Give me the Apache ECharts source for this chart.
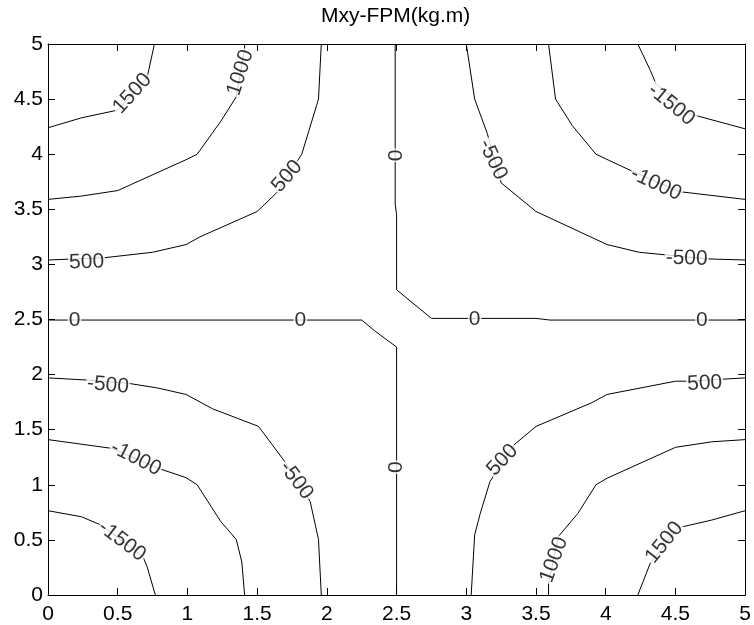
<!DOCTYPE html>
<html>
<head>
<meta charset="utf-8">
<script src="https://cdn.jsdelivr.net/npm/echarts@6/dist/echarts.min.js"></script>
<style>
  html, body { margin: 0; padding: 0; background: #fff; }
  #main { width: 754px; height: 625px; }
</style>
</head>
<body>
<div id="main"></div>
<script>
// contour lines, as [x, y] points
var pos1500a = [[0, 4.24], [0.24, 4.33], [0.50, 4.40], [0.71, 4.69], [0.76, 4.98], [0.76, 5]];
var pos1000a = [[0, 3.59], [0.24, 3.62], [0.50, 3.67], [0.99, 3.95], [1.07, 4.0], [1.24, 4.30], [1.35, 4.52], [1.41, 4.95], [1.41, 5]];
var pos500a = [[0, 3.04], [0.40, 3.06], [0.75, 3.11], [0.99, 3.18], [1.09, 3.25], [1.50, 3.48], [1.64, 3.65], [1.82, 4.0], [1.94, 4.5], [1.96, 5]];

var zeroTop = [[2.49, 5], [2.49, 3.55], [2.5, 3.45], [2.5, 2.77], [2.75, 2.51], [3.5, 2.51], [3.6, 2.495], [5, 2.495]];
var zeroBottom = [[0, 2.495], [2.25, 2.495], [2.34, 2.40], [2.5, 2.25], [2.5, 0]];

var neg500a = [[3.00, 5], [3.06, 4.5], [3.15, 4.19], [3.25, 3.74], [3.50, 3.48], [4.01, 3.18], [4.24, 3.11], [4.72, 3.05], [5, 3.04]];
var neg1000a = [[3.59, 5], [3.64, 4.5], [3.76, 4.26], [3.93, 4.0], [4.03, 3.94], [4.20, 3.84], [4.53, 3.66], [5, 3.59]];
var neg1500a = [[4.23, 5], [4.32, 4.76], [4.36, 4.64], [4.62, 4.36], [5, 4.23]];

var neg500b = [[0, 1.97], [0.29, 1.95], [0.58, 1.92], [0.78, 1.88], [0.99, 1.82], [1.18, 1.69], [1.51, 1.53], [1.69, 1.225], [1.88, 0.85], [1.94, 0.505], [1.96, 0]];
var neg1000b = [[0, 1.41], [0.46, 1.33], [0.79, 1.15], [0.99, 1.065], [1.07, 1.0], [1.24, 0.665], [1.35, 0.505], [1.39, 0.30], [1.41, 0]];
var neg1500b = [[0, 0.765], [0.24, 0.71], [0.38, 0.635], [0.68, 0.35], [0.71, 0.26], [0.77, 0]];

var pos500b = [[5, 1.97], [4.58, 1.94], [4.50, 1.94], [4.01, 1.82], [3.90, 1.745], [3.50, 1.53], [3.34, 1.36], [3.17, 1.03], [3.10, 0.74], [3.06, 0.545], [3.035, 0]];
var pos1000b = [[5, 1.41], [4.76, 1.39], [4.50, 1.34], [4.01, 1.06], [3.93, 1.0], [3.80, 0.74], [3.66, 0.53], [3.59, 0.106], [3.59, 0]];
var pos1500b = [[5, 0.765], [4.76, 0.68], [4.52, 0.61], [4.32, 0.29], [4.23, 0]];

var contours = [pos1500a, pos1000a, pos500a, zeroTop, zeroBottom, neg500a, neg1000a, neg1500a,
                neg500b, neg1000b, neg1500b, pos500b, pos1000b, pos1500b];

// contour labels: x, y, text, angle (degrees, anticlockwise)
var labels = [
    [0.605, 4.55, '1500', 48],
    [1.38, 4.74, '1000', 72],
    [1.715, 3.80, '500', 49],
    [0.277, 3.02, '500', 2],
    [0.19, 2.495, '0', 0],
    [1.81, 2.495, '0', 0],
    [3.06, 2.50, '0', 0],
    [4.69, 2.495, '0', 0],
    [2.5, 3.99, '0', 90],
    [2.5, 1.16, '0', 90],
    [3.19, 3.95, '-500', -65],
    [4.36, 3.73, '-1000', -25],
    [4.47, 4.45, '-1500', -39],
    [4.58, 3.055, '-500', -2],
    [0.43, 1.905, '-500', -5],
    [0.63, 1.24, '-1000', -27],
    [0.53, 0.49, '-1500', -37],
    [1.78, 1.04, '-500', -53],
    [4.71, 1.92, '500', 3],
    [3.26, 1.225, '500', 47],
    [3.63, 0.32, '1000', 70],
    [4.42, 0.476, '1500', 51]
];

var font = 'Liberation Sans, Arial, sans-serif';

var myChart = echarts.init(document.getElementById('main'));

function makeAxis(pos, showLabel, margin) {
    return {
        type: 'value',
        position: pos,
        min: 0,
        max: 5,
        interval: 0.5,
        axisLine: { show: true, onZero: false, lineStyle: { color: '#000', width: 1 } },
        axisTick: { show: true, inside: true, length: 7, lineStyle: { color: '#000' } },
        axisLabel: { show: showLabel, color: '#000', fontSize: 21, fontFamily: font, margin: margin },
        splitLine: { show: false }
    };
}

var series = contours.map(function(pts) {
    return {
        type: 'line',
        data: pts,
        symbol: 'none',
        silent: true,
        lineStyle: { color: '#000', width: 1 },
        z: 2
    };
});

series.push({
    type: 'scatter',
    symbolSize: 0,
    z: 5,
    data: labels.map(function(l) {
        return { name: l[2], value: [l[0], l[1]], label: { rotate: l[3] } };
    }),
    label: {
        show: true,
        position: 'inside',
        formatter: '{b}',
        color: '#000',
        fontSize: 21,
        fontFamily: font,
        backgroundColor: '#fff',
        lineHeight: 16,
        padding: [0, 1]
    }
});

var option = {
    backgroundColor: '#fff',
    animation: false,
    title: {
        text: 'Mxy-FPM(kg.m)',
        left: 321,
        top: 6,
        padding: 0,
        textStyle: { color: '#000', fontSize: 21, fontWeight: 'normal', fontFamily: font }
    },
    grid: { left: 48, right: 7, top: 44, bottom: 30 },
    xAxis: [makeAxis('bottom', true, 9), makeAxis('top', false, 6)],
    yAxis: [makeAxis('left', true, 5), makeAxis('right', false, 5)],
    series: series
};

myChart.setOption(option);
</script>
</body>
</html>
